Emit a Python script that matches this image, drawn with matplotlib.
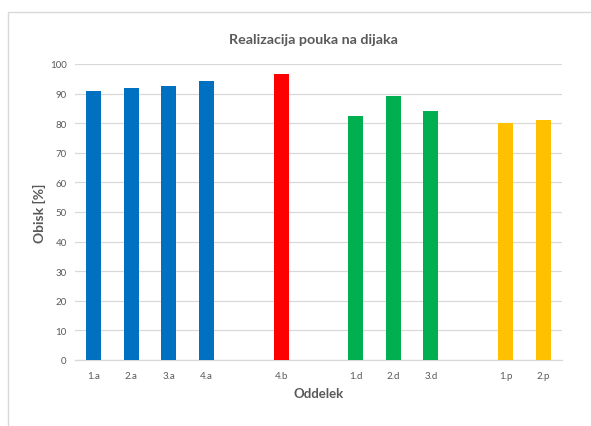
import numpy as np
import matplotlib
matplotlib.use("Agg")
import matplotlib.pyplot as plt
from matplotlib.patches import Rectangle

categories = ['1.a', '2.a', '3.a', '4.a', '', '4.b', '', '1.d', '2.d', '3.d', '', '1.p', '2.p']
values = [91.0, 91.8, 92.7, 94.2, np.nan, 96.6, np.nan, 82.5, 89.2, 84.2, np.nan, 80.2, 81.2]
groups = ['a', 'a', 'a', 'a', '', 'b', '', 'd', 'd', 'd', '', 'p', 'p']
group_colors = {'a': '#0070C0', 'b': '#FF0000', 'd': '#00B050', 'p': '#FFC000', '': 'none'}
yticks = list(range(0, 101, 10))

plt.rcParams['font.family'] = ['Lato', 'DejaVu Sans']
gray = '#595959'

fig = plt.figure(figsize=(5.91, 4.27), dpi=100)
fig.patches.append(Rectangle((8 / 591, -0.01), 1.0, 1 - 13 / 427 + 0.01, transform=fig.transFigure,
                             facecolor='white', edgecolor='#D9D9D9', linewidth=1.0, zorder=-5))
ax = fig.add_axes([75 / 591, 1 - 361 / 427, (562 - 75) / 591, (361 - 65) / 427])
ax.set_facecolor('none')

x = np.arange(len(categories))
vals = np.nan_to_num(np.array(values, dtype=float))
cols = [group_colors[g] for g in groups]
ax.bar(x, vals, width=0.4, color=cols, zorder=3)

ax.set_xlim(-0.5, len(categories) - 0.5)
ax.set_ylim(0, 100)
ax.set_yticks(yticks)
ax.set_yticklabels([str(t) for t in yticks], fontsize=7, color=gray)
ax.set_xticks(x)
ax.set_xticklabels(categories, fontsize=7, color=gray)
ax.tick_params(axis='y', length=0, pad=6)
ax.tick_params(axis='x', length=0, pad=8)
ax.yaxis.grid(True, color='#D9D9D9', linewidth=0.9, zorder=0)
for s in ['top', 'right', 'left']:
    ax.spines[s].set_visible(False)
ax.spines['bottom'].set_color('#D9D9D9')
ax.spines['bottom'].set_linewidth(0.9)

ax.text(0.49, 1.065, 'Realizacija pouka na dijaka', transform=ax.transAxes, ha='center', va='bottom',
        fontsize=10.3, fontweight='bold', color=gray)
ax.set_xlabel('Oddelek', fontsize=9.5, fontweight='bold', color=gray, labelpad=5)
ax.set_ylabel('Obisk [%]', fontsize=10, fontweight='bold', color=gray, labelpad=3)

fig.savefig('out.png', dpi=100)
